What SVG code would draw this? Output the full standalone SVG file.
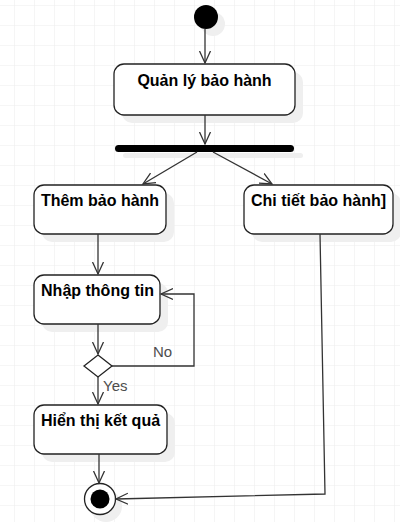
<svg xmlns="http://www.w3.org/2000/svg" width="400" height="522" viewBox="0 0 400 522">
<defs>
<pattern id="grid" x="14" y="5" width="20" height="20" patternUnits="userSpaceOnUse">
<path d="M0,0 V20 M0,0 H20" fill="none" stroke="#eeeeee" stroke-width="1.2"/>
</pattern>
<marker id="arr" markerUnits="userSpaceOnUse" markerWidth="14" markerHeight="14" viewBox="0 0 14 14" refX="12" refY="7" orient="auto">
<path d="M0,1.5 L12,7 L0,12.5" fill="none" stroke="#333333" stroke-width="1.3"/>
</marker>
</defs>
<style>
.box{fill:#ffffff;stroke:#222222;stroke-width:1.3}
.sh{fill:#efefef}
.lbl{font-family:"Liberation Sans",Arial,sans-serif;font-size:16px;font-weight:bold;fill:#000000;text-anchor:middle}
.cl{font-family:"Liberation Sans",Arial,sans-serif;font-size:15px;fill:#4d4d4d}
.ln{fill:none;stroke:#333333;stroke-width:1.3}
</style>
<rect width="400" height="522" fill="#ffffff"/>
<rect width="400" height="522" fill="url(#grid)"/>

<g id="start">
<circle cx="213" cy="24" r="12" class="sh"/>
<circle cx="206" cy="17" r="12" fill="#000000"/>
</g>
<g id="quan-ly">
<rect x="122" y="72" width="181" height="51" rx="10" class="sh"/>
<rect x="114" y="64" width="181" height="51" rx="10" class="box"/>
<text x="204.5" y="86" class="lbl">Quản lý bảo hành</text>
</g>
<g id="fork">
<rect x="123" y="153" width="180" height="5" rx="2.5" class="sh"/>
<rect x="115" y="145" width="179" height="7" rx="3.5" fill="#000000"/>
</g>
<g id="them">
<rect x="42" y="193" width="132" height="49" rx="10" class="sh"/>
<rect x="34" y="185" width="132" height="49" rx="10" class="box"/>
<text x="100" y="206" class="lbl">Thêm bảo hành</text>
</g>
<g id="chi-tiet">
<rect x="252" y="193" width="149" height="49" rx="10" class="sh"/>
<rect x="244" y="185" width="149" height="49" rx="10" class="box"/>
<text x="318.5" y="206" class="lbl">Chi tiết bảo hành]</text>
</g>
<g id="nhap">
<rect x="42" y="283" width="126" height="49" rx="10" class="sh"/>
<rect x="34" y="275" width="126" height="49" rx="10" class="box"/>
<text x="97.5" y="296" class="lbl">Nhập thông tin</text>
</g>
<g id="decision">
<path d="M98,355 L112,366 L98,377 L84,366 Z" fill="#ffffff" stroke="#222222" stroke-width="1.3"/>
</g>
<g id="hien-thi">
<rect x="42" y="413" width="133" height="49" rx="10" class="sh"/>
<rect x="34" y="405" width="133" height="49" rx="10" class="box"/>
<text x="100.5" y="426" class="lbl">Hiển thị kết quả</text>
</g>
<g id="end">
<circle cx="106" cy="506" r="16" class="sh"/>
<circle cx="100" cy="499" r="15.5" fill="#ffffff" stroke="#222222" stroke-width="1.3"/>
<circle cx="100" cy="499" r="9.5" fill="#000000"/>
</g>

<g id="connectors">
<path d="M205,29 V63" class="ln" marker-end="url(#arr)"/>
<path d="M205,115 V144" class="ln" marker-end="url(#arr)"/>
<path d="M197,152 L143,184" class="ln" marker-end="url(#arr)"/>
<path d="M213,152 L272,184" class="ln" marker-end="url(#arr)"/>
<path d="M98,234 V274" class="ln" marker-end="url(#arr)"/>
<path d="M98,324 V354" class="ln" marker-end="url(#arr)"/>
<path d="M112,366 H194 V294 H161" class="ln" marker-end="url(#arr)"/>
<path d="M98,377 V404" class="ln" marker-end="url(#arr)"/>
<path d="M99,454 V483" class="ln" marker-end="url(#arr)"/>
<path d="M320,234 L325,494 L116,499" class="ln" marker-end="url(#arr)"/>
<text x="153" y="357" class="cl">No</text>
<text x="103" y="391" class="cl">Yes</text>
</g>
</svg>
